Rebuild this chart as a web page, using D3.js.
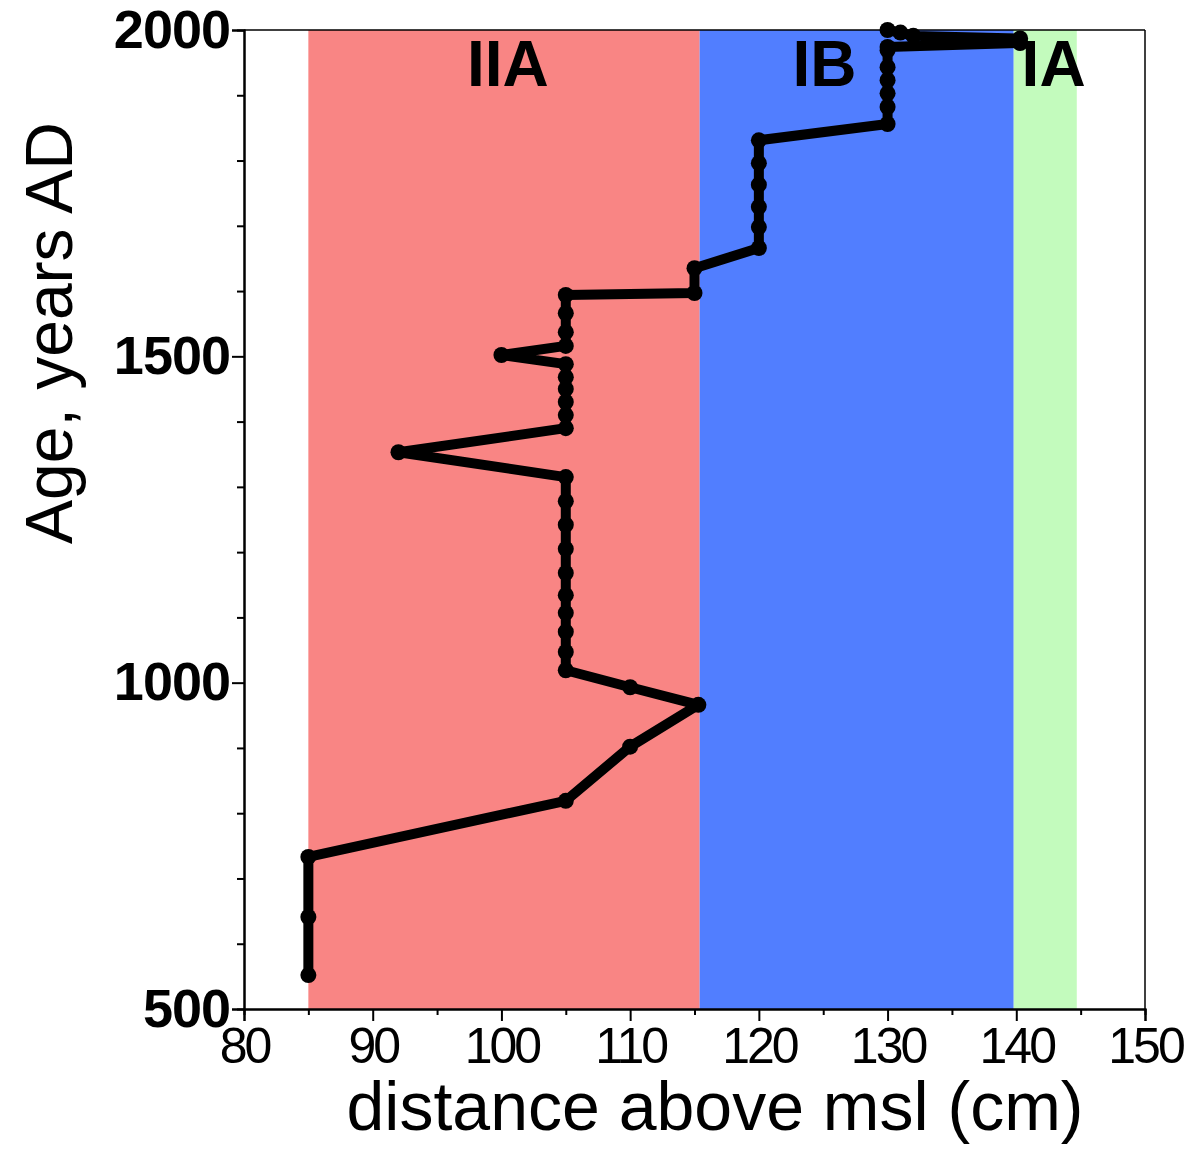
<!DOCTYPE html>
<html>
<head>
<meta charset="utf-8">
<script src="https://cdn.jsdelivr.net/npm/d3@7"></script>
<style>
  body { margin: 0; background: #fff; }
  svg { display: block; font-family: "Liberation Sans", Arial, sans-serif; }
</style>
</head>
<body>
<script>
'use strict';

// distance above msl (cm) and age (years AD), oldest first
const distanceCm = [85, 85, 85, 105, 110, 115.3, 110, 105, 105, 105, 105, 105, 105, 105, 105, 105, 105,
  92, 105, 105, 105, 105, 105, 105, 100, 105, 105, 105, 105, 115, 115,
  120, 120, 120, 120, 120, 120, 130, 130, 130, 130, 130, 130, 130, 140.3, 140.3, 132, 131, 130];
const ageAD = [552, 641, 733, 819, 902, 966, 993, 1019, 1047, 1078, 1107, 1134, 1168, 1205, 1242, 1278, 1315,
  1353, 1390, 1410, 1430, 1450, 1468, 1488, 1502, 1516, 1537, 1566, 1594, 1597, 1635,
  1666, 1698, 1729, 1763, 1796, 1831, 1856, 1882, 1903, 1923, 1943, 1969, 1974, 1980, 1987, 1991, 1996, 2000];

// zones along the distance axis
const zoneNames = ['IIA', 'IB', 'IA'];
const zoneFrom = [85, 115.4, 139.8];
const zoneTo = [115.4, 139.8, 144.7];
const zoneColors = ['#f98584', '#517eff', '#c3fbbd'];

const xMajorTicks = [80, 90, 100, 110, 120, 130, 140, 150];
const xMinorTicks = [85, 95, 105, 115, 125, 135, 145];
const yMajorTicks = [500, 1000, 1500, 2000];
const yMinorTicks = [600, 700, 800, 900, 1100, 1200, 1300, 1400, 1600, 1700, 1800, 1900];

let svg = d3.select('body').append('svg')
  .attr('width', 1194)
  .attr('height', 1165);

const plot = { left: 244, right: 1145, top: 30, bottom: 1009 };

let xScale = d3.scaleLinear().domain([80, 150]).range([plot.left, plot.right]);
let yScale = d3.scaleLinear().domain([500, 2000]).range([plot.bottom, plot.top]);

// coloured zones
svg.selectAll('.zone')
  .data(zoneNames)
  .enter()
  .append('rect')
  .attr('x', (d, i) => xScale(zoneFrom[i]))
  .attr('width', (d, i) => xScale(zoneTo[i]) - xScale(zoneFrom[i]))
  .attr('y', yScale(2000))
  .attr('height', yScale(500) - yScale(2000))
  .attr('fill', (d, i) => zoneColors[i]);

// zone labels (placed where the figure puts them, in cm)
const labelAt = [100.5, 125.1, 142.9];
svg.selectAll('.zoneLabel')
  .data(zoneNames)
  .enter()
  .append('text')
  .attr('x', (d, i) => xScale(labelAt[i]))
  .attr('y', 86)
  .attr('text-anchor', 'middle')
  .style('font-size', '64px')
  .style('font-weight', 'bold')
  .text(d => d);

// frame on top and right
svg.append('line')
  .attr('x1', plot.left).attr('x2', plot.right)
  .attr('y1', plot.top).attr('y2', plot.top)
  .attr('stroke', '#000').attr('stroke-width', 1.5);
svg.append('line')
  .attr('x1', plot.right).attr('x2', plot.right)
  .attr('y1', plot.top).attr('y2', plot.bottom)
  .attr('stroke', '#000').attr('stroke-width', 1.5);

// axes: minor ticks first, then labelled major ticks
function styleAxis(g) {
  g.select('.domain').attr('stroke-width', 2);
  g.selectAll('.tick line').attr('stroke-width', 2);
}

svg.append('g')
  .attr('transform', 'translate(0,' + plot.bottom + ')')
  .call(d3.axisBottom(xScale).tickValues(xMinorTicks).tickSize(6).tickFormat(''))
  .call(styleAxis);
let xAxis = svg.append('g')
  .attr('transform', 'translate(0,' + plot.bottom + ')')
  .call(d3.axisBottom(xScale).tickValues(xMajorTicks).tickSize(12).tickPadding(6).tickFormat(d3.format('d')))
  .call(styleAxis);
xAxis.selectAll('text')
  .style('font-family', '"Liberation Sans", Arial, sans-serif')
  .style('font-size', '50px')
  .style('letter-spacing', '-3px')
  .attr('fill', '#000');

svg.append('g')
  .attr('transform', 'translate(' + plot.left + ',0)')
  .call(d3.axisLeft(yScale).tickValues(yMinorTicks).tickSize(7).tickFormat(''))
  .call(styleAxis);
let yAxis = svg.append('g')
  .attr('transform', 'translate(' + plot.left + ',0)')
  .call(d3.axisLeft(yScale).tickValues(yMajorTicks).tickSize(12).tickPadding(2).tickFormat(d3.format('d')))
  .call(styleAxis);
yAxis.selectAll('text')
  .style('font-family', '"Liberation Sans", Arial, sans-serif')
  .style('font-size', '54px')
  .style('font-weight', 'bold')
  .style('letter-spacing', '-1px')
  .attr('fill', '#000');

// axis titles
svg.append('text')
  .attr('x', 715)
  .attr('y', 1130)
  .attr('text-anchor', 'middle')
  .style('font-size', '68px')
  .text('distance above msl (cm)');

svg.append('text')
  .attr('transform', 'translate(72, 333)rotate(-90)')
  .attr('text-anchor', 'middle')
  .style('font-size', '66px')
  .text('Age, years AD');

// the record: thick line with dots
let points = ageAD.map((a, i) => ({ cm: distanceCm[i], year: a }));

let line = d3.line()
  .x(d => xScale(d.cm))
  .y(d => yScale(d.year));

svg.append('path')
  .datum(points)
  .attr('fill', 'none')
  .attr('stroke', '#000')
  .attr('stroke-width', 10)
  .attr('stroke-linejoin', 'round')
  .attr('d', line);

svg.selectAll('.dot')
  .data(points)
  .enter()
  .append('circle')
  .attr('cx', d => xScale(d.cm))
  .attr('cy', d => yScale(d.year))
  .attr('r', 8)
  .attr('fill', '#000');
</script>
</body>
</html>
